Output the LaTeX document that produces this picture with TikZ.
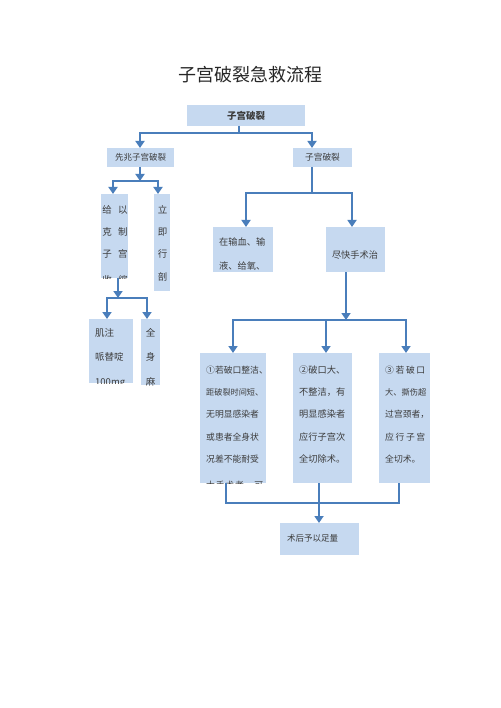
\documentclass[tikz,border=0pt]{standalone}
\usepackage{fontspec}
\setmainfont{Noto Sans CJK SC}
\usetikzlibrary{arrows.meta}
\definecolor{boxfill}{HTML}{C6D9F0}
\definecolor{linec}{HTML}{4A7EBB}
\definecolor{txtc}{HTML}{3C3C3C}
\newcommand{\fs}[1]{\fontsize{#1}{#1}\selectfont}
\begin{document}
\begin{tikzpicture}[x=1pt,y=-1pt,
  box/.style={fill=boxfill, draw=none, inner sep=0pt, outer sep=0pt, text=txtc},
  conn/.style={draw=linec, line width=2.9pt, line join=miter},
  arrE/.style={-{Triangle[width=9pt,length=7pt]}},
  arrB/.style={{Triangle[width=9pt,length=7pt]}-{Triangle[width=9pt,length=7pt]}},
  lt/.style={inner sep=0pt, anchor=west, text=txtc},
  ct/.style={inner sep=0pt, text=txtc}]
\useasboundingbox (0,0) rectangle (500,708);

% title
\node[font=\fs{18}, text=black!85] (title) at (250,75) {子宫破裂急救流程};

% level 1
\node[box, minimum width=118pt, minimum height=21pt, font=\bfseries\fs{9.5}] (top) at (246,115.5) {子宫破裂};
\node[box, minimum width=67pt, minimum height=19pt, font=\fs{8.5}] (xian) at (140.5,157.5) {先兆子宫破裂};
\node[box, minimum width=59pt, minimum height=19pt, font=\fs{8.7}] (rup) at (322.5,157.5) {子宫破裂};

\coordinate (h1) at (239,133);
\coordinate (h1l) at (140,133);
\coordinate (h1r) at (312,133);
\draw[conn] (top.south -| h1) -- (h1);
\draw[conn, arrB] (xian.north -| h1l) |- (h1r) -- (rup.north -| h1r);

% left branch
\node[box, minimum width=27pt, minimum height=84pt] (gei) at (114.5,236) {};
\node[box, minimum width=16pt, minimum height=97pt] (li) at (162,242.5) {};
\coordinate (h2) at (140,181);
\coordinate (h2l) at (113,181);
\coordinate (h2r) at (158,181);
\draw[conn, arrE] (xian.south -| h2) -- (h2);
\draw[conn, arrB] (gei.north -| h2l) |- (h2r) -- (li.north -| h2r);

\begin{scope}
\clip (gei.north west) rectangle (gei.south east);
\node[ct, font=\fs{9.5}] (g1) at (115,210) {给\hspace{6.5pt}以};
\node[ct, font=\fs{9.5}] (g2) at (115,232) {克\hspace{6.5pt}制};
\node[ct, font=\fs{9.5}] (g3) at (115,254) {子\hspace{6.5pt}宫};
\node[ct, font=\fs{9.5}] (g4) at (115,280) {收\hspace{6.5pt}缩};
\end{scope}
\begin{scope}
\clip (li.north west) rectangle (li.south east);
\node[ct, font=\fs{9.5}] (l1) at (162.5,210) {立};
\node[ct, font=\fs{9.5}] (l2) at (162.5,232) {即};
\node[ct, font=\fs{9.5}] (l3) at (162.5,254) {行};
\node[ct, font=\fs{9.5}] (l4) at (162.5,277) {剖};
\end{scope}

\node[box, minimum width=44pt, minimum height=64pt] (ji) at (111,351) {};
\node[box, minimum width=19pt, minimum height=66pt] (quan) at (150.5,352) {};
\coordinate (h3) at (118,298);
\coordinate (h3l) at (107,298);
\coordinate (h3r) at (147,298);
\draw[conn, arrE] (gei.south -| h3) -- (h3);
\draw[conn, arrB] (ji.north -| h3l) |- (h3r) -- (quan.north -| h3r);

\begin{scope}
\clip (ji.north west) rectangle (ji.south east);
\node[lt, font=\fs{9.5}] (j1) at (95,333) {肌注};
\node[lt, font=\fs{9.5}] (j2) at (95,357) {哌替啶};
\node[lt, font=\fs{9.5}] (j3) at (95,383) {100mg};
\end{scope}
\begin{scope}
\clip (quan.north west) rectangle (quan.south east);
\node[ct, font=\fs{9.5}] (q1) at (150.5,333) {全};
\node[ct, font=\fs{9.5}] (q2) at (150.5,357) {身};
\node[ct, font=\fs{9.5}] (q3) at (150.5,382) {麻};
\end{scope}

% right branch
\node[box, minimum width=60pt, minimum height=45pt] (zai) at (243,249.5) {};
\node[box, minimum width=59pt, minimum height=45pt] (jin) at (355.5,249.5) {};
\coordinate (h4) at (312,193);
\coordinate (h4l) at (246,193);
\coordinate (h4r) at (352,193);
\draw[conn] (rup.south -| h4) -- (h4);
\draw[conn, arrB] (zai.north -| h4l) |- (h4r) -- (jin.north -| h4r);

\begin{scope}
\clip (zai.north west) rectangle (zai.south east);
\node[lt, font=\fs{9.2}] (z1) at (219,242) {在输血、输};
\node[lt, font=\fs{9.2}] (z2) at (219,266) {液、给氧、};
\end{scope}
\node[ct, font=\fs{9.2}] (jt) at (355,255) {尽快手术治};

\node[box, minimum width=66pt, minimum height=130pt] (b1) at (233,418) {};
\node[box, minimum width=59pt, minimum height=130pt] (b2) at (322.5,418) {};
\node[box, minimum width=51pt, minimum height=130pt] (b3) at (404.5,418) {};
\coordinate (h5) at (346,320);
\coordinate (h5l) at (233,320);
\coordinate (h5m) at (326,320);
\coordinate (h5r) at (406,320);
\draw[conn, arrE] (jin.south -| h5) -- (h5);
\draw[conn, arrB] (b1.north -| h5l) |- (h5r) -- (b3.north -| h5r);
\draw[conn, arrE] (h5m) -- (b2.north -| h5m);

\begin{scope}
\clip (b1.north west) rectangle (b1.south east);
\node[lt, font=\fs{8.8}] (a1) at (206,370) {\makebox[57pt][s]{①\hfill 若\hfill 破\hfill 口\hfill 整\hfill 洁\hfill 、}};
\node[lt, font=\fs{8.15}] (a2) at (206,392) {距破裂时间短、};
\node[lt, font=\fs{8.8}] (a3) at (206,414) {无明显感染者};
\node[lt, font=\fs{8.8}] (a4) at (206,437) {或患者全身状};
\node[lt, font=\fs{8.8}] (a5) at (206,459) {况差不能耐受};
\node[lt, font=\fs{8.8}] (a6) at (206,485) {\makebox[57pt][s]{大\hfill 手\hfill 术\hfill 者\hfill ，\hfill 可}};
\end{scope}
\begin{scope}
\clip (b2.north west) rectangle (b2.south east);
\node[lt, font=\fs{9.2}] (c1) at (299,370) {②破口大、};
\node[lt, font=\fs{9.2}] (c2) at (299,392) {不整洁，有};
\node[lt, font=\fs{9.2}] (c3) at (299,414) {明显感染者};
\node[lt, font=\fs{9.2}] (c4) at (299,437) {应行子宫次};
\node[lt, font=\fs{9.2}] (c5) at (299,459) {全切除术。};
\end{scope}
\begin{scope}
\clip (b3.north west) rectangle (b3.south east);
\node[lt, font=\fs{8.8}] (d1) at (385,370) {\makebox[40pt][s]{③\hfill 若\hfill 破\hfill 口}};
\node[lt, font=\fs{8.2}] (d2) at (385,392) {大、撕伤超};
\node[lt, font=\fs{8.8}] (d3) at (385,414) {过宫颈者，};
\node[lt, font=\fs{8.8}] (d4) at (385,437) {\makebox[40pt][s]{应\hfill 行\hfill 子\hfill 宫}};
\node[lt, font=\fs{8.8}] (d5) at (385,459) {全切术。};
\end{scope}

% bottom
\node[box, minimum width=79pt, minimum height=32pt] (fin) at (319.5,539) {};
\node[lt, font=\fs{8.5}] (ft) at (287,538) {术后予以足量};
\coordinate (h6) at (319,503);
\coordinate (h6l) at (226,503);
\coordinate (h6r) at (399,503);
\draw[conn] (b1.south -| h6l) |- (h6r) -- (b3.south -| h6r);
\draw[conn] (b2.south -| h6) -- (h6);
\draw[conn, arrE] (h6) -- (fin.north -| h6);
\end{tikzpicture}
\end{document}
